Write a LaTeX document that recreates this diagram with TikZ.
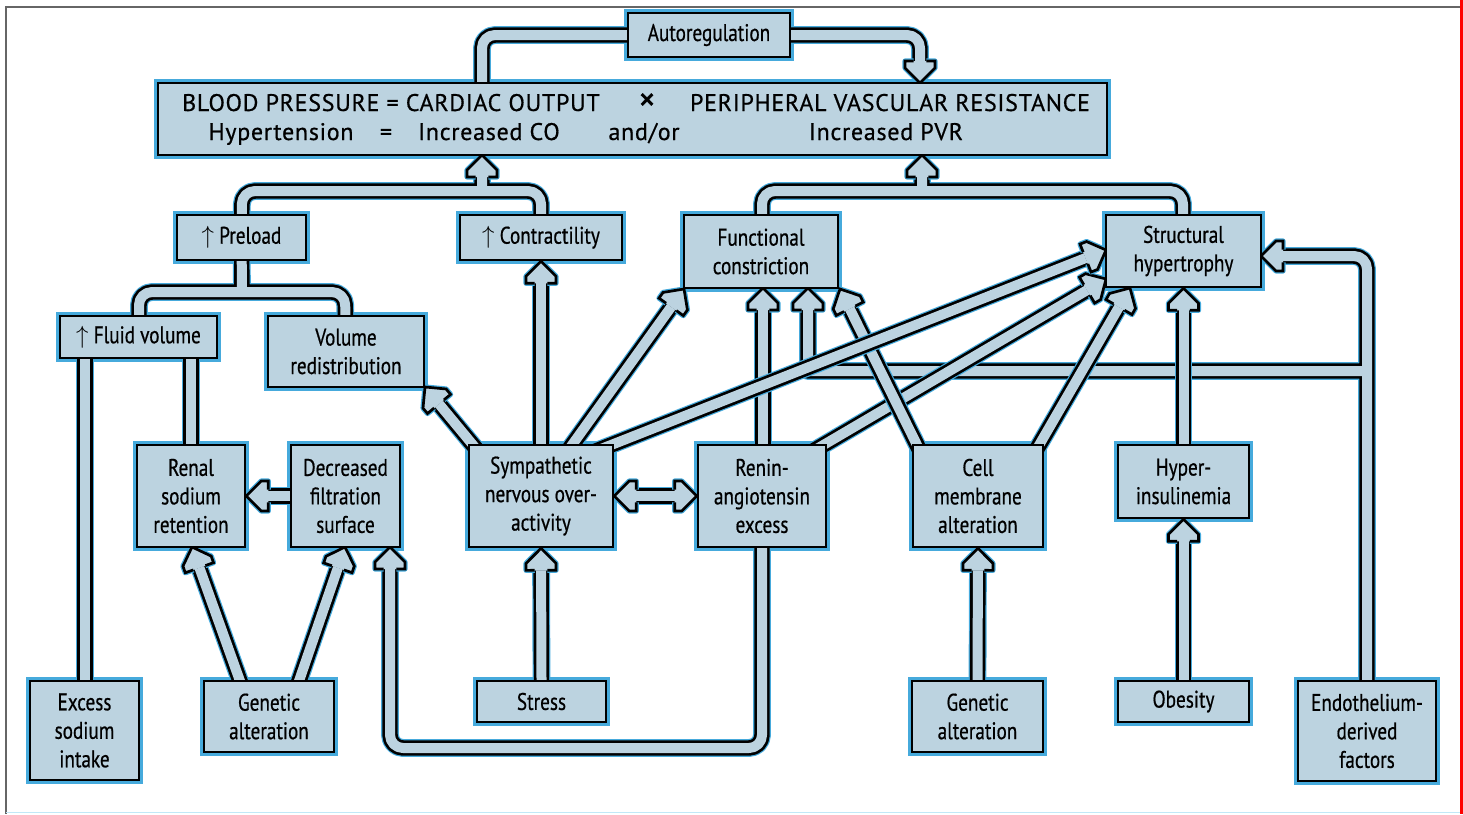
\documentclass[tikz,border=0pt]{standalone}
\usepackage{fontspec}
\usetikzlibrary{calc}
\newfontfamily\boxfont[FakeStretch=0.8,FakeBold=0.6]{PT Sans}
\newfontfamily\titlefont[LetterSpace=3,FakeBold=0.6]{PT Sans}
\newfontfamily\timesfont[FakeBold=1.2]{PT Sans}
\definecolor{boxfill}{RGB}{188,211,224}
\definecolor{glow}{RGB}{70,170,220}
\pgfdeclarelayer{bg}\pgfdeclarelayer{mid}
\pgfsetlayers{bg,mid,main}
\tikzset{
 box/.style={draw=black, line width=2.6pt, fill=boxfill, inner sep=0pt, align=center,
   font=\boxfont\fontsize{24}{28.5}\selectfont},
 tt/.style={inner sep=0pt, anchor=base, font=\titlefont\fontsize{24}{28}\selectfont},
 connhalo/.style={draw=glow, line width=17.8pt, line join=round},
 connout/.style={draw=black, line width=15.4pt, line join=round},
 connin/.style={draw=boxfill, line width=10pt, line join=round},
 boxhalo/.style={draw=glow, line width=5pt},
}
\newcommand\conn[1]{\draw[connhalo]#1;\draw[connout]#1;\draw[connin]#1;}
\newcommand\ahead[2]{%
 \coordinate (hC) at ($(#1)!22pt!(#2)$);
 \coordinate (hD) at ($(#1)!15pt!(#2)$);
 \coordinate (hP1) at ($(hC)!6.35pt!90:(#2)$);
 \coordinate (hP2) at ($(hC)!15pt!90:(#2)$);
 \coordinate (hP3) at ($(hD)!15pt!90:(#2)$);
 \coordinate (hP4) at ($(hD)!15pt!-90:(#2)$);
 \coordinate (hP5) at ($(hC)!15pt!-90:(#2)$);
 \coordinate (hP6) at ($(hC)!6.35pt!-90:(#2)$);
 \draw[glow, line width=5.2pt, line join=round] (hP1)--(hP2)--(hP3)--(#1)--(hP4)--(hP5)--(hP6);
 \path[fill=boxfill] (hP1)--(hP2)--(hP3)--(#1)--(hP4)--(hP5)--(hP6)--cycle;
 \draw[black, line width=2.7pt, line join=miter] (hP1)--(hP2)--(hP3)--(#1)--(hP4)--(hP5)--(hP6);
}
\newcommand\arr[2]{\conn{($(#1)!-14pt!(#2)$) -- ($(#2)!22pt!(#1)$)}\ahead{#2}{#1}}

\begin{document}
\begin{tikzpicture}[x=1pt,y=-1pt]
\useasboundingbox (0,0) rectangle (1463,814);
% frame
\draw[gray!80!black, line width=1.4pt] (5,7) -- (1460,7);
\draw[gray!80!black, line width=1.4pt] (6,7) -- (6,814);
\draw[black!8!cyan!25, line width=1.5pt] (6,812.5) -- (1460,812.5);
\draw[red, line width=3pt] (1461.5,0) -- (1461.5,814);

% boxes
\node[box, minimum width=162pt, minimum height=44pt] (autoreg) at (709,35) {Autoregulation};
\node[box, minimum width=949pt, minimum height=72pt] (bp) at (632.5,119) {};
\node[box, minimum width=129pt, minimum height=45pt] (preload) at (241.5,237.5) {$\uparrow$ Preload};
\node[box, minimum width=162pt, minimum height=45pt] (contr) at (541,237.5) {$\uparrow$ Contractility};
\node[box, minimum width=154pt, minimum height=73pt] (func) at (761,251.5) {Functional\\constriction};
\node[box, minimum width=155pt, minimum height=72pt] (struct) at (1183.5,251) {Structural\\hypertrophy};
\node[box, minimum width=157pt, minimum height=42pt] (fluid) at (138.5,337) {$\uparrow$ Fluid volume};
\node[box, minimum width=156pt, minimum height=71pt] (volred) at (346,351.5) {Volume\\redistribution};
\node[box, minimum width=108pt, minimum height=102pt] (renal) at (191,496) {Renal\\sodium\\retention};
\node[box, minimum width=109pt, minimum height=102pt] (decr) at (345.5,496) {Decreased\\filtration\\surface};
\node[box, minimum width=144pt, minimum height=102pt] (symp) at (541,496) {Sympathetic\\nervous over-\\activity};
\node[box, minimum width=128pt, minimum height=102pt] (renin) at (762,496) {Renin-\\angiotensin\\excess};
\node[box, minimum width=130pt, minimum height=102pt] (cell) at (978,496) {Cell\\membrane\\alteration};
\node[box, minimum width=131pt, minimum height=73pt] (hyper) at (1183.5,481.5) {Hyper-\\insulinemia};
\node[box, minimum width=109pt, minimum height=99pt] (excess) at (84.5,730.5) {Excess\\sodium\\intake};
\node[box, minimum width=130pt, minimum height=71pt] (genL) at (269,716.5) {Genetic\\alteration};
\node[box, minimum width=129pt, minimum height=41pt] (stress) at (541.5,701.5) {Stress};
\node[box, minimum width=131pt, minimum height=71pt] (genR) at (977.5,716.5) {Genetic\\alteration};
\node[box, minimum width=131pt, minimum height=41pt] (obesity) at (1183.5,701.5) {Obesity};
\node[box, minimum width=138pt, minimum height=100pt] (endo) at (1367,731) {Endothelium-\\derived\\factors};

% title texts
\node[tt] (bpa) at (391,111) {BLOOD PRESSURE = CARDIAC OUTPUT};
\node[tt, font=\timesfont\fontsize{34}{34}\selectfont] (bpx) at (647,111) {×};
\node[tt] (bpb) at (890,111) {PERIPHERAL VASCULAR RESISTANCE};
\node[tt] (hyp) at (281,140) {Hypertension};
\node[tt] (eqs) at (386,140) {=};
\node[tt] (ico) at (489,140) {Increased CO};
\node[tt] (ando) at (644,140) {and/or};
\node[tt] (ipvr) at (886,140) {Increased PVR};

\begin{pgfonlayer}{bg}
\foreach \n in {autoreg,bp,preload,contr,func,struct,fluid,volred,renal,decr,symp,renin,cell,hyper,excess,genL,stress,genR,obesity,endo}
  \draw[boxhalo] (\n.south west) rectangle (\n.north east);
\end{pgfonlayer}

% named end points
\coordinate (tAuto) at (920,83);
\coordinate (tCO) at (482,155);
\coordinate (tPVR) at (922,155);
\coordinate (tDecr) at (390,547);
\coordinate (tStrR) at (1261,256);
\coordinate (tFunc2) at (808,288);
\coordinate (g1s) at (240,681);   \coordinate (g1t) at (192,547);
\coordinate (g2s) at (299,681);   \coordinate (g2t) at (345,547);
\coordinate (ks) at (473,445);    \coordinate (kt) at (425,387);
\coordinate (ls) at (572,445);    \coordinate (lt) at (684,289);
\coordinate (ms) at (606,447);    \coordinate (mt) at (1106,250);
\coordinate (ns) at (763,445);    \coordinate (nt) at (763,288);
\coordinate (os) at (918,447);    \coordinate (ot) at (840,289);
\coordinate (ps) at (820,447);    \coordinate (pt) at (1106,279);
\coordinate (qs) at (1038,447);   \coordinate (qt) at (1130,288);

\begin{pgfonlayer}{mid}
% preload tree
\conn{[rounded corners=13pt] (preload.center) -- (242,292) (fluid.center -| 139,0) -- (139,292) -- (345,292) -- (volred.center)}
% fluid volume lines
\conn{(85,337) -- (excess.center -| 85,0) (191,337) -- (renal.center)}
% cardiac output tree
\conn{[rounded corners=13pt] (preload.center) -- (242,191) -- (541,191) -- (contr.center) (482,191) -- (482,177)}
\ahead{tCO}{482,191}
% PVR tree
\conn{[rounded corners=13pt] (func.center -| 762,0) -- (762,191) -- (1183,191) -- (struct.center -| 1183,0) (922,191) -- (922,177)}
\ahead{tPVR}{922,191}
% autoregulation loop
\conn{[rounded corners=13pt] (482,119) -- (482,35) -- (920,35) -- (920,61)}
\ahead{tAuto}{920,35}
% endothelium
\conn{[rounded corners=13pt] (endo.center) -- (1367,256) -- (1283,256) [sharp corners] (1367,371) -- (808,371) -- (808,310)}
\ahead{tStrR}{1367,256}
\ahead{tFunc2}{808,371}
% renin loop
\conn{[rounded corners=13pt] (renin.center) -- (762,748) -- (390,748) -- (390,569)}
\ahead{tDecr}{390,748}
% straight arrows
\arr{decr.center}{renal.east}
\arr{g1s}{g1t}
\arr{g2s}{g2t}
\arr{stress.north}{symp.south}
\arr{symp.north}{contr.south}
\arr{genR.north}{cell.south}
\arr{obesity.north}{hyper.south}
\arr{hyper.north}{struct.south}
\arr{ns}{nt}
\arr{ps}{pt}
\arr{qs}{qt}
\arr{os}{ot}
\arr{ks}{kt}
\arr{ls}{lt}
\arr{ms}{mt}
% double arrow
\conn{($(symp.east)!22pt!(renin.west)$) -- ($(renin.west)!22pt!(symp.east)$)}
\ahead{symp.east}{renin.west}
\ahead{renin.west}{symp.east}
\end{pgfonlayer}
\end{tikzpicture}
\end{document}
